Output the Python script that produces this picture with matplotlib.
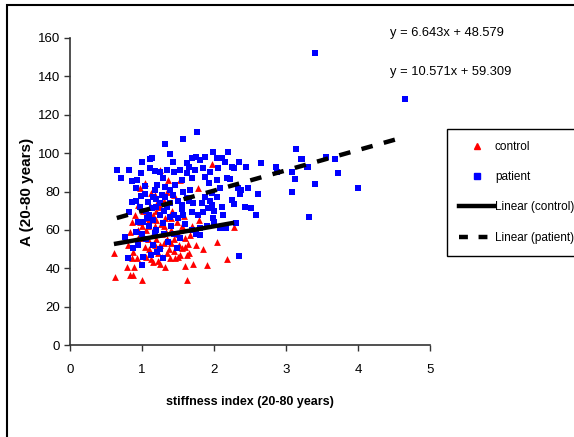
import matplotlib
matplotlib.use("Agg")
import matplotlib.pyplot as plt
from matplotlib.patches import Rectangle
from matplotlib.lines import Line2D
import numpy as np

plt.rcParams['font.family'] = ['Liberation Sans', 'DejaVu Sans']

# ---- data ----
control_x = [1.79, 2.04, 1.67, 1.64, 1.53, 1.46, 1.39, 1.32, 1.60, 1.71, 1.90, 1.62, 1.63, 1.56, 1.60,
             2.28, 2.18,
             0.61, 0.63, 0.83, 0.88, 1.00, 0.79, 0.89, 0.86, 0.93, 0.81, 0.88, 0.83, 0.86, 0.97, 1.04, 0.94,
             0.97, 1.04, 0.94, 1.25, 1.36, 1.53, 1.97, 1.78, 1.21,
             1.05, 1.08, 1.10, 1.12, 1.15, 1.18, 1.20, 1.22, 1.25, 1.28, 1.30, 1.32, 1.35, 1.38, 1.40, 1.42,
             1.45, 1.48, 1.50, 1.52, 1.55, 1.10, 1.15, 1.20, 1.25, 1.30, 1.00, 1.05, 1.12, 1.18, 1.22, 1.28,
             1.35, 1.05, 1.15, 1.25, 1.00, 0.95, 1.40, 1.45, 1.60, 1.70, 1.75, 1.85, 1.45, 1.35, 1.12, 1.58,
             0.90, 1.02, 1.30, 1.20, 1.40, 1.50, 1.65, 1.18, 1.08, 1.33, 1.27]
control_y = [65, 53.7, 57.3, 52.6, 47, 45.3, 45.3, 40.6, 41, 42.2, 41.7, 33.9, 47, 50.5, 51,
             61.5, 44.8,
             47.9, 35.4, 36.5, 36.5, 33.9, 40.6, 40.6, 45.3, 45.3, 52, 48.5, 58.9, 64.1, 64.1, 51, 55.8,
             81.8, 84.4, 72.9, 91.2, 86, 86, 94.3, 81.8, 74,
             60, 55, 50, 45, 58, 62, 55, 48, 52, 58, 62, 66, 55, 50, 60, 70,
             55, 64, 58, 52, 62, 65, 68, 70, 72, 75, 62, 66, 72, 78, 44, 46,
             48, 46, 43, 42, 56, 60, 53, 49, 56, 62, 52, 50, 78, 80, 79, 67,
             68, 70, 53, 65, 66, 46, 48, 52, 62, 59, 63]

patient_x = [3.40, 4.65, 3.22, 3.29, 3.56, 3.68, 3.72, 3.40, 4.00, 3.32,
             2.20, 2.11, 2.15, 2.35, 2.25, 2.28, 2.44, 2.65, 3.14, 3.21, 3.30, 2.86, 2.87, 3.08, 3.12, 3.08,
             2.18, 2.22, 2.08, 2.33, 2.375, 2.36, 2.47, 2.61, 2.25, 2.28, 2.43, 2.51, 2.11,
             2.58, 2.13, 2.30, 2.17, 2.08, 2.35,
             1.81, 1.53, 1.92, 1.99, 1.85, 1.69, 1.57, 1.50, 1.39, 1.29, 1.18, 1.21, 1.29, 1.14, 1.36, 1.49, 1.81,
             0.82, 0.76, 0.92, 0.81, 0.88, 1.00, 1.01, 0.94, 1.01, 1.07,
             1.00, 1.11, 0.65, 0.82, 0.71, 0.86, 0.93, 0.99, 1.04, 0.92, 0.99, 1.04, 0.86, 0.92, 1.08, 0.97,
             1.76, 1.57, 1.32, 1.39, 1.99, 1.75, 1.69, 1.81, 1.875, 2.04, 1.14, 1.43, 1.625, 1.65, 1.11, 1.18,
             1.25, 1.35, 1.44, 1.53, 1.74, 1.85, 1.94, 2.06, 1.625, 1.29, 1.56, 1.69, 1.875, 2.04, 1.21, 1.32,
             1.46, 1.93, 1.18, 1.39, 1.57, 1.67, 1.97, 1.15, 1.32, 1.43, 1.625, 1.875, 2.04, 1.25, 1.39, 1.56,
             1.71, 1.83, 1.97,
             1.05, 1.10, 1.15, 1.20, 1.25, 1.30, 1.35, 1.10, 1.20, 1.30, 1.05, 1.15, 1.25, 1.40, 1.45, 1.50,
             1.60, 1.70, 1.75, 1.90, 2.00, 1.12, 0.95, 1.00, 1.20, 1.28, 1.45, 1.55, 1.65, 1.78, 1.95, 2.00]
patient_y = [152.3, 128, 97, 92.7, 98, 97, 89.6, 83.8, 81.8, 66.7,
             100.5, 97.4, 95.4, 95.4, 92.8, 92.3, 92.8, 94.8, 102, 97, 92.8, 92.7, 90, 90, 86.6, 80,
             87, 86.5, 81.8, 81.8, 80.7, 78.7, 81.8, 78.7, 75.6, 73.5, 71.9, 71.4, 72,
             67.7, 67.7, 63.6, 61, 61, 46.4,
             57.3, 55.8, 71.4, 66.2, 69.3, 69.3, 67.7, 66.2, 66.7, 63.6, 58.4, 48.5, 45.3, 71.4, 53.7, 50.5, 60.9,
             69.3, 56.3, 58.9, 45.3, 50.5, 41.7, 45.9, 64.1, 64.1, 66.2,
             95.4, 97, 91.2, 91.2, 87, 85.5, 86, 89.6, 82.9, 81.8, 77.6, 78.7, 74.5, 75, 74.5, 72,
             111, 107.3, 104.7, 99.5, 100.5, 98, 97.4, 96.4, 98, 97.4, 97.4, 95.4, 94.8, 92.8, 92.2, 90.7,
             90.2, 91.2, 90.2, 91.2, 91.2, 92.2, 90.2, 92.2, 89.6, 87, 86, 87, 87.5, 86, 83.4, 82.3,
             83.4, 84.4, 80.8, 80.8, 79.7, 80.8, 79.2, 77.1, 77.1, 78.2, 76.6, 77.1, 77.1, 74, 74, 73,
             74, 74, 73,
             70, 68, 65, 72, 68, 70, 72, 62, 60, 58, 55, 52, 50, 62, 58, 75,
             63, 60, 58, 62, 64, 47, 52, 58, 76, 78, 68, 71, 75, 68, 75, 70]

control_fit = (6.643, 48.579)    # slope, intercept
patient_fit = (10.571, 59.309)
eq_texts = ["y = 6.643x + 48.579", "y = 10.571x + 59.309"]
x_ticks = [0, 1, 2, 3, 4, 5]
y_ticks = [0, 20, 40, 60, 80, 100, 120, 140, 160]

W, H = 574, 437
fig = plt.figure(figsize=(W / 100, H / 100), dpi=100)
ax = fig.add_axes([70 / W, 1 - 345 / H, 360 / W, 307 / H])

ax.scatter(control_x, control_y, marker='^', s=24, color='#ff0000', linewidths=0, zorder=2)
ax.scatter(patient_x, patient_y, marker='s', s=18, color='#0000ff', linewidths=0, zorder=3)

cx = np.array([min(control_x), max(control_x)])
px = np.array([min(patient_x), max(patient_x)])
ax.plot(cx, control_fit[0] * cx + control_fit[1], color='black', lw=3.2, solid_capstyle='butt', zorder=4)
ax.plot(px, patient_fit[0] * px + patient_fit[1], color='black', lw=3.2, dashes=(2.6, 2.6),
        dash_capstyle='butt', zorder=4)

ax.set_xlim(0, 5)
ax.set_ylim(0, 160)
ax.set_xticks(x_ticks)
ax.set_yticks(y_ticks)
for s in ['top', 'right']:
    ax.spines[s].set_visible(False)
for s in ['left', 'bottom']:
    ax.spines[s].set_color('#333333')
    ax.spines[s].set_linewidth(1.2)
ax.tick_params(direction='out', length=4, width=1, color='#333333', labelsize=9.5, pad=3)
ax.tick_params(axis='x', pad=10)
ax.set_xlabel("stiffness index (20-80 years)", fontsize=9, fontweight='bold', labelpad=14)
ax.set_ylabel("A (20-80 years)", fontsize=11, fontweight='bold', labelpad=3)

fig.text(390 / W, 1 - 33 / H, eq_texts[0], fontsize=9.3, va='center', ha='left')
fig.text(390 / W, 1 - 72 / H, eq_texts[1], fontsize=9.3, va='center', ha='left')

handles = [Line2D([], [], marker='^', ls='none', color='#ff0000', ms=5),
           Line2D([], [], marker='s', ls='none', color='#0000ff', ms=4),
           Line2D([], [], color='black', lw=3.2),
           Line2D([], [], color='black', lw=3.2, dashes=(2.0, 2.4))]
labels = ["control", "patient", "Linear (control)", "Linear (patient)"]
leg = fig.legend(handles, labels, loc='upper left', bbox_to_anchor=(447 / W, 1 - 129 / H),
                 fontsize=8.5, frameon=True, fancybox=False, edgecolor='black', framealpha=1,
                 handlelength=3.0, handletextpad=0.05, labelspacing=1.55, borderpad=1.0,
                 borderaxespad=0)
leg.get_frame().set_linewidth(1.0)

fig.patches.append(Rectangle((7 / W, -0.01), 1, 1 - 5 / H + 0.01, transform=fig.transFigure,
                             fill=False, edgecolor='black', linewidth=1.5))

fig.savefig("out.png", dpi=100)
